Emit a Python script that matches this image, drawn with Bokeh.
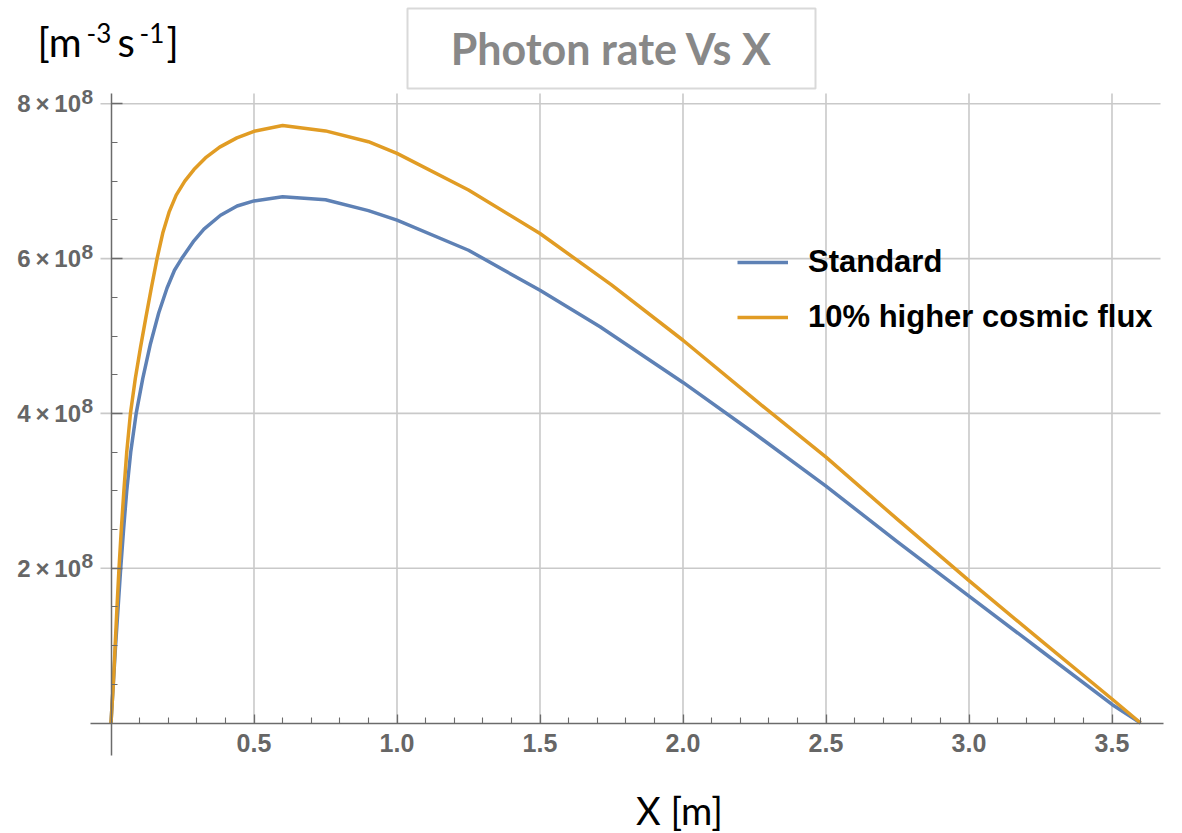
from bokeh.plotting import figure
from bokeh.models import FixedTicker, Label, BoxAnnotation, Legend, LegendItem, Range1d
from bokeh.embed import file_html
from bokeh.resources import INLINE

# ---------------- data ----------------
series_names = ["Standard", "10% higher cosmic flux"]

x_standard = [0, 0.008, 0.016, 0.025, 0.034, 0.044, 0.055, 0.069, 0.088, 0.111,
              0.138, 0.167, 0.196, 0.222, 0.247, 0.29, 0.325, 0.383, 0.441, 0.5,
              0.6, 0.75, 0.9, 1.0, 1.25, 1.5, 1.71, 2.0, 2.25, 2.5, 2.75, 3.0,
              3.25, 3.5, 3.6]
y_standard = [0, 0.5e8, 1.0e8, 1.5e8, 2.0e8, 2.5e8, 3.0e8, 3.5e8, 4.0e8, 4.45e8,
              4.9e8, 5.3e8, 5.62e8, 5.85e8, 6.0e8, 6.23e8, 6.38e8, 6.56e8, 6.68e8, 6.745e8,
              6.80e8, 6.76e8, 6.62e8, 6.497e8, 6.108e8, 5.59e8, 5.12e8, 4.40e8, 3.74e8,
              3.06e8, 2.34e8, 1.64e8, 0.94e8, 0.24e8, 0]

x_higher = [0, 0.008, 0.0145, 0.021, 0.028, 0.036, 0.045, 0.055, 0.068, 0.085,
            0.103, 0.122, 0.141, 0.161, 0.181, 0.203, 0.228, 0.258, 0.29, 0.33,
            0.38, 0.44, 0.5, 0.6, 0.75, 0.9, 1.0, 1.25, 1.5, 1.75, 2.0, 2.25,
            2.5, 2.75, 3.0, 3.25, 3.5, 3.6]
y_higher = [0, 0.5e8, 1.0e8, 1.5e8, 2.0e8, 2.5e8, 3.0e8, 3.5e8, 4.0e8, 4.45e8,
            4.85e8, 5.24e8, 5.62e8, 6.0e8, 6.33e8, 6.6e8, 6.82e8, 7.0e8, 7.15e8, 7.30e8,
            7.44e8, 7.56e8, 7.645e8, 7.72e8, 7.65e8, 7.51e8, 7.36e8, 6.886e8, 6.324e8,
            5.66e8, 4.945e8, 4.18e8, 3.435e8, 2.63e8, 1.84e8, 1.07e8, 0.31e8, 0]

x_ticks = [0.5, 1.0, 1.5, 2.0, 2.5, 3.0, 3.5]
x_tick_labels = ["0.5", "1.0", "1.5", "2.0", "2.5", "3.0", "3.5"]
y_ticks = [2e8, 4e8, 6e8, 8e8]
y_tick_mantissas = ["2\u2009×\u200910", "4\u2009×\u200910", "6\u2009×\u200910", "8\u2009×\u200910"]
y_tick_exponents = ["8", "8", "8", "8"]

title_text = "Photon rate Vs X"
x_label_text = "X [m]"
# y unit label "[m^-3 s^-1]" in pieces: (text, is_superscript)
y_unit_parts = [("[m", False), ("-3", True), ("s", False), ("-1", True), ("]", False)]

# ---------------- layout helpers (pixel -> data) ----------------
W, H = 1182, 833
X0_PX, PX_PER_X = 110.5, 286.0
Y0_PX, PX_PER_Y = 722.5, 77.4e-8


def dx(px):
    return (px - X0_PX) / PX_PER_X


def dy(py):
    return (Y0_PX - py) / PX_PER_Y


p = figure(width=W, height=H, output_backend="svg", toolbar_location=None,
           x_range=Range1d(dx(0), dx(W)), y_range=Range1d(dy(H), dy(0)),
           min_border=0)
p.outline_line_color = None
p.background_fill_color = "white"
p.border_fill_color = "white"
p.xgrid.visible = False
p.ygrid.visible = False

# grid lines limited to the plot range (as in the reference)
GRID_COL = "#c9c9c9"
nx, ny = len(x_ticks), len(y_ticks)
p.segment(x0=x_ticks, y0=[0] * nx, x1=x_ticks, y1=[dy(93)] * nx,
          line_color=GRID_COL, line_width=1.6)
p.segment(x0=[dx(100)] * ny, y0=y_ticks, x1=[dx(1160)] * ny, y1=y_ticks,
          line_color=GRID_COL, line_width=1.6)

AX_COL = "#6b6b6b"
LBL_COL = "#666666"
xa = p.xaxis[0]
ya = p.yaxis[0]
xa.fixed_location = 0
ya.fixed_location = 0

minor_x = [i / 10 for i in range(1, 37) if i % 5 != 0]
minor_y = [i * 0.5e8 for i in range(1, 17) if i % 4 != 0]
xa.ticker = FixedTicker(ticks=x_ticks, minor_ticks=minor_x)
ya.ticker = FixedTicker(ticks=y_ticks, minor_ticks=minor_y)
xa.major_label_overrides = {t: l for t, l in zip(x_ticks, x_tick_labels)}
ya.major_label_overrides = {t: l for t, l in zip(y_ticks, y_tick_mantissas)}
xa.bounds = (dx(90), dx(1163))
ya.bounds = (dy(755), dy(93))

for ax in (xa, ya):
    ax.axis_line_color = AX_COL
    ax.axis_line_width = 1.5
    ax.major_tick_line_color = AX_COL
    ax.minor_tick_line_color = AX_COL
    ax.major_tick_line_width = 1.3
    ax.minor_tick_line_width = 1.1
    ax.major_tick_out = 0
    ax.minor_tick_out = 0
    ax.minor_tick_in = 6
    ax.major_label_text_font = "Liberation Sans"
    ax.major_label_text_font_style = "bold"
    ax.major_label_text_color = LBL_COL
xa.major_label_text_font_size = "25px"
ya.major_label_text_font_size = "24px"
xa.major_tick_in = 9
ya.major_tick_in = 11
xa.major_label_standoff = 11
ya.major_label_standoff = 30

# raised exponents of the y tick labels
for t, e in zip(y_ticks, y_tick_exponents):
    p.add_layout(Label(x=dx(81), y=t + 7 * 1e8 / 77.4, text=e, text_align="left",
                       text_baseline="middle", text_font="Liberation Sans",
                       text_font_style="bold", text_font_size="21px", text_color=LBL_COL))

r1 = p.line(x_standard, y_standard, line_color="#5E81B5", line_width=3.5, line_join="round")
r2 = p.line(x_higher, y_higher, line_color="#E19C24", line_width=3.5, line_join="round")

legend = Legend(items=[LegendItem(label=series_names[0], renderers=[r1]),
                       LegendItem(label=series_names[1], renderers=[r2])],
                location=(737, 498), orientation="vertical",
                label_text_font="Liberation Sans", label_text_font_style="bold",
                label_text_font_size="31px", label_text_color="black",
                glyph_width=51, glyph_height=36, label_height=36,
                label_standoff=20, spacing=19, padding=0, margin=0,
                border_line_color=None, background_fill_alpha=0)
p.add_layout(legend)

box = BoxAnnotation(left=dx(407), right=dx(815), top=dy(8), bottom=dy(88),
                    fill_color=None, fill_alpha=0, line_color="#808080", line_width=2)
p.add_layout(box)

p.add_layout(Label(x=dx(611), y=dy(48), text=title_text, text_align="center",
                   text_baseline="middle", text_font="Lato", text_font_style="bold",
                   text_font_size="43px", text_color="#888888"))

# unit label at the top left, built from normal and raised pieces
unit_x_px = [37, 86, 117, 139, 166]
for (txt, sup), xp in zip(y_unit_parts, unit_x_px):
    p.add_layout(Label(x=dx(xp), y=dy(32 if sup else 41.5), text=txt, text_align="left",
                       text_baseline="middle", text_font="Lato",
                       text_font_size="26px" if sup else "40px", text_color="black"))

p.add_layout(Label(x=dx(679), y=dy(809), text=x_label_text, text_align="center",
                   text_baseline="middle", text_font="Lato", text_font_size="38px",
                   text_color="black"))

open("out.html", "w").write(file_html(p, INLINE))
